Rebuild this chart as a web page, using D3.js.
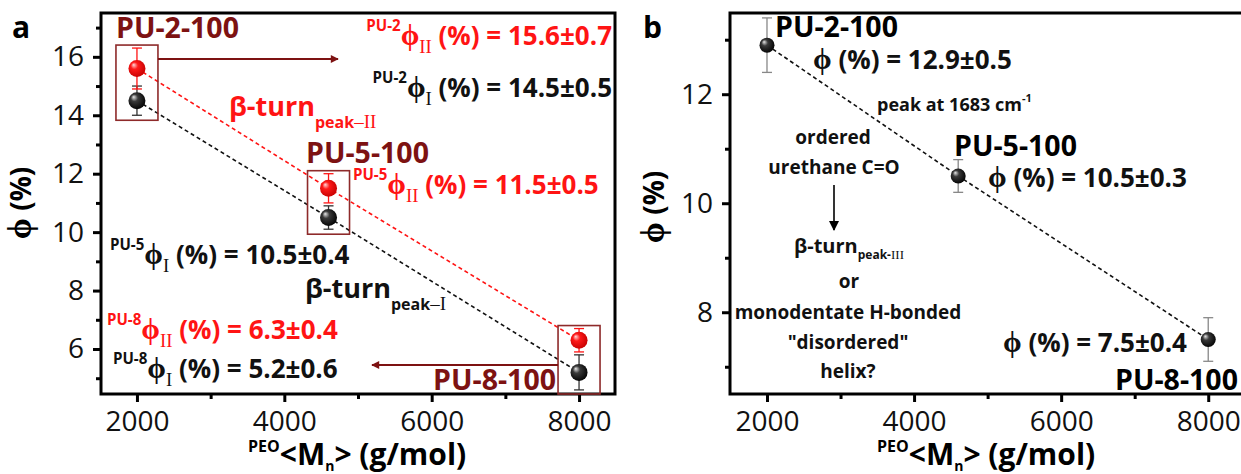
<!DOCTYPE html>
<html>
<head>
<meta charset="utf-8">
<script src="https://cdn.jsdelivr.net/npm/d3@7"></script>
<style>
  body { margin: 0; background: #fff; }
  svg { display: block; }
</style>
</head>
<body>
<div id="chart"></div>
<script>
// sample names and PEO molecular weight
var samples = ["PU-2-100", "PU-5-100", "PU-8-100"];
var mnPEO = [2000, 4600, 8000];

// panel a: beta-turn fractions (peak II red, peak I black)
var phiII = [15.6, 11.5, 6.3];
var errII = [0.7, 0.5, 0.4];
var phiI = [14.5, 10.5, 5.2];
var errI = [0.5, 0.4, 0.6];

// panel b: peak at 1683 cm-1
var phiB = [12.9, 10.5, 7.5];
var errB = [0.5, 0.3, 0.4];

// ticks
var xTicks = [2000, 4000, 6000, 8000];
var xMinor = [3000, 5000, 7000];
var yTicksA = [6, 8, 10, 12, 14, 16];
var yMinorA = [5, 7, 9, 11, 13, 15, 17];
var yTicksB = [8, 10, 12];
var yMinorB = [7, 9, 11, 13];

var FONT = "'Open Sans', 'DejaVu Sans', sans-serif";
var SERIF = "'Liberation Serif', 'DejaVu Serif', serif";
var PHI = "\u03D5";
var RED = "#ff1414";
var DARKRED = "#7d1212";
var BOXRED = "#8e2a2a";

var width = 1241, height = 474;

var svg = d3.select("#chart").append("svg")
  .attr("width", width)
  .attr("height", height)
  .attr("font-family", FONT);

// gradients for the ball markers
var defs = svg.append("defs");
var gBlack = defs.append("radialGradient").attr("id", "ballBlack")
  .attr("cx", "45%").attr("cy", "45%").attr("r", "60%").attr("fx", "30%").attr("fy", "28%");
gBlack.append("stop").attr("offset", "0%").attr("stop-color", "#e8e8e8");
gBlack.append("stop").attr("offset", "35%").attr("stop-color", "#3a3a3a");
gBlack.append("stop").attr("offset", "100%").attr("stop-color", "#000");
var gRed = defs.append("radialGradient").attr("id", "ballRed")
  .attr("cx", "45%").attr("cy", "45%").attr("r", "60%").attr("fx", "30%").attr("fy", "28%");
gRed.append("stop").attr("offset", "0%").attr("stop-color", "#ffd8d8");
gRed.append("stop").attr("offset", "35%").attr("stop-color", "#ff1a1a");
gRed.append("stop").attr("offset", "100%").attr("stop-color", "#c40000");

function arrowMarker(id, color, w, h) {
  defs.append("marker").attr("id", id)
    .attr("viewBox", "0 0 10 10").attr("refX", 9).attr("refY", 5)
    .attr("markerWidth", w).attr("markerHeight", h)
    .attr("markerUnits", "userSpaceOnUse")
    .attr("orient", "auto")
    .append("path").attr("d", "M0,0 L10,5 L0,10 z").attr("fill", color);
}
arrowMarker("arrRed", DARKRED, 10, 8);
arrowMarker("arrBlack", "#000", 10, 12);

// text with sub/superscripts: parts = [{t, s, o, f, w}]
function rich(g, x, y, parts, anchor, color) {
  var t = g.append("text")
    .attr("x", x).attr("y", y)
    .attr("text-anchor", anchor || "start")
    .attr("fill", color || "#000")
    .attr("font-weight", "bold");
  var cur = 0;
  parts.forEach(function(p) {
    var off = p.o || 0;
    var ts = t.append("tspan").text(p.t)
      .attr("font-size", p.s)
      .attr("dy", off - cur);
    if (p.f) ts.attr("font-family", p.f);
    if (p.w) ts.attr("font-weight", p.w);
    cur = off;
  });
  return t;
}

function phiLabel(pre, sub, rest, size) {
  var parts = [];
  if (pre) parts.push({t: pre, s: size * 0.58, o: -size * 0.55});
  parts.push({t: PHI, s: size * 1.15, o: 0, f: SERIF});
  if (sub) parts.push({t: sub, s: size * 0.72, o: size * 0.3, f: SERIF, w: "normal"});
  parts.push({t: rest, s: size, o: 0});
  return parts;
}

// draw axes + frame for a panel
function drawFrame(g, x, y, yTicks, yMinor) {
  var x0 = x.range()[0], x1 = x.range()[1];
  var y0 = y.range()[0], y1 = y.range()[1];

  g.append("g").attr("transform", "translate(0," + y0 + ")")
    .call(d3.axisBottom(x).tickValues(xTicks).tickSize(8).tickPadding(9).tickFormat(d3.format("d")));
  g.append("g").attr("transform", "translate(0," + y0 + ")")
    .call(d3.axisBottom(x).tickValues(xMinor).tickSize(5).tickFormat(""));
  g.append("g").attr("transform", "translate(" + x0 + ",0)")
    .call(d3.axisLeft(y).tickValues(yTicks).tickSize(8).tickPadding(9).tickFormat(d3.format("d")));
  g.append("g").attr("transform", "translate(" + x0 + ",0)")
    .call(d3.axisLeft(y).tickValues(yMinor).tickSize(5).tickFormat(""));

  g.selectAll(".domain").remove();
  g.selectAll(".tick line").attr("stroke", "#000").attr("stroke-width", 3);
  g.selectAll(".tick text")
    .attr("font-family", FONT)
    .attr("font-size", 28)
    .attr("fill", "#111");

  g.append("rect")
    .attr("x", x0).attr("y", y1)
    .attr("width", x1 - x0).attr("height", y0 - y1)
    .attr("fill", "none").attr("stroke", "#000").attr("stroke-width", 3);
}

function xLabel(g, xStart) {
  rich(g, xStart, 465, [
    {t: "PEO", s: 16, o: -13},
    {t: "<M", s: 30, o: 0},
    {t: "n", s: 14, o: 6},
    {t: "> (g/mol)", s: 30, o: 0}
  ]);
}

function yLabel(g, cx, cy) {
  var t = g.append("text")
    .attr("transform", "translate(" + cx + "," + cy + ") rotate(-90)")
    .attr("text-anchor", "middle")
    .attr("font-weight", "bold");
  t.append("tspan").text(PHI).attr("font-family", SERIF).attr("font-size", 34);
  t.append("tspan").text(" (%)").attr("font-size", 28);
}

function errorBars(g, x, y, vals, errs, color, cap) {
  var grp = g.append("g").attr("stroke", color).attr("stroke-width", 1.3).attr("fill", "none");
  vals.forEach(function(v, i) {
    var cx = x(mnPEO[i]);
    var top = y(v + errs[i]), bot = y(v - errs[i]);
    grp.append("line").attr("x1", cx).attr("x2", cx).attr("y1", top).attr("y2", bot);
    grp.append("line").attr("x1", cx - cap).attr("x2", cx + cap).attr("y1", top).attr("y2", top);
    grp.append("line").attr("x1", cx - cap).attr("x2", cx + cap).attr("y1", bot).attr("y2", bot);
  });
}

function dashedLine(g, x, y, vals, color) {
  var line = d3.line()
    .x(function(d, i) { return x(mnPEO[i]); })
    .y(function(d) { return y(d); });
  g.append("path").datum(vals)
    .attr("d", line)
    .attr("fill", "none")
    .attr("stroke", color)
    .attr("stroke-width", 1.6)
    .attr("stroke-dasharray", "4,3");
}

function balls(g, x, y, vals, fill, r) {
  g.selectAll(null).data(vals).enter().append("circle")
    .attr("cx", function(d, i) { return x(mnPEO[i]); })
    .attr("cy", function(d) { return y(d); })
    .attr("r", r)
    .attr("fill", fill);
}

function valText(v, e) {
  return " (%) = " + v + "\u00B1" + e;
}

// ---------------- panel a ----------------
var xA = d3.scaleLinear().domain([1512, 8488]).range([101, 615]);
var yA = d3.scaleLinear().domain([4.46, 17.5]).range([394, 13]);
var gA = svg.append("g");

drawFrame(gA, xA, yA, yTicksA, yMinorA);

dashedLine(gA, xA, yA, phiII, RED);
dashedLine(gA, xA, yA, phiI, "#111");

// boxes around each sample pair
mnPEO.forEach(function(m, i) {
  var top = yA(phiII[i] + errII[i]) - 3;
  var bot = Math.min(yA(phiI[i] - errI[i]) + 5, 394);
  gA.append("rect")
    .attr("x", xA(m) - 21).attr("y", top)
    .attr("width", 42).attr("height", bot - top)
    .attr("fill", "none").attr("stroke", BOXRED).attr("stroke-width", 1.6);
});

errorBars(gA, xA, yA, phiI, errI, "#333", 5);
errorBars(gA, xA, yA, phiII, errII, RED, 5);
balls(gA, xA, yA, phiI, "url(#ballBlack)", 8.5);
balls(gA, xA, yA, phiII, "url(#ballRed)", 8.5);

// arrows
gA.append("line")
  .attr("x1", xA(mnPEO[0]) + 21).attr("x2", 338)
  .attr("y1", 59).attr("y2", 59)
  .attr("stroke", DARKRED).attr("stroke-width", 1.8)
  .attr("marker-end", "url(#arrRed)");
gA.append("line")
  .attr("x1", xA(mnPEO[2]) - 21).attr("x2", 372)
  .attr("y1", 365).attr("y2", 365)
  .attr("stroke", DARKRED).attr("stroke-width", 1.8)
  .attr("marker-end", "url(#arrRed)");

// sample labels
gA.append("text").attr("x", 116).attr("y", 38).text(samples[0])
  .attr("font-size", 28.5).attr("font-weight", "bold").attr("fill", DARKRED);
gA.append("text").attr("x", 306).attr("y", 163).text(samples[1])
  .attr("font-size", 28.5).attr("font-weight", "bold").attr("fill", DARKRED);
gA.append("text").attr("x", 556).attr("y", 390).text(samples[2])
  .attr("text-anchor", "end")
  .attr("font-size", 28.5).attr("font-weight", "bold").attr("fill", DARKRED);

// value labels
rich(gA, 612, 45, phiLabel("PU-2", "II", valText(phiII[0], errII[0]), 26), "end", RED);
rich(gA, 612, 97, phiLabel("PU-2", "I", valText(phiI[0], errI[0]), 26), "end", "#111");
rich(gA, 353, 194, phiLabel("PU-5", "II", valText(phiII[1], errII[1]), 26), "start", RED);
rich(gA, 110, 264, phiLabel("PU-5", "I", valText(phiI[1], errI[1]), 26), "start", "#111");
rich(gA, 107, 339, phiLabel("PU-8", "II", valText(phiII[2], errII[2]), 26), "start", RED);
rich(gA, 113, 378, phiLabel("PU-8", "I", valText(phiI[2], errI[2]), 26), "start", "#111");

// beta-turn labels
rich(gA, 229, 116, [
  {t: "\u03B2-turn", s: 27, o: 0},
  {t: "peak", s: 16, o: 12},
  {t: "\u2013II", s: 19, o: 12, f: SERIF, w: "normal"}
], "start", RED);
rich(gA, 305, 298, [
  {t: "\u03B2-turn", s: 27, o: 0},
  {t: "peak", s: 16, o: 12},
  {t: "\u2013I", s: 19, o: 12, f: SERIF, w: "normal"}
], "start", "#111");

xLabel(gA, 248);
yLabel(gA, 31, 203);
gA.append("text").attr("x", 12).attr("y", 38).text("a")
  .attr("font-size", 30).attr("font-weight", "bold");

// ---------------- panel b ----------------
var xB = d3.scaleLinear().domain([1497, 8500]).range([730, 1245]);
var yB = d3.scaleLinear().domain([6.5, 13.49]).range([394, 13]);
var gB = svg.append("g");

drawFrame(gB, xB, yB, yTicksB, yMinorB);
dashedLine(gB, xB, yB, phiB, "#111");
errorBars(gB, xB, yB, phiB, errB, "#888", 5);
balls(gB, xB, yB, phiB, "url(#ballBlack)", 7.5);

gB.append("text").attr("x", 775).attr("y", 37).text(samples[0])
  .attr("font-size", 28.5).attr("font-weight", "bold");
gB.append("text").attr("x", 954).attr("y", 156).text(samples[1])
  .attr("font-size", 28.5).attr("font-weight", "bold");
gB.append("text").attr("x", 1115).attr("y", 390).text(samples[2])
  .attr("font-size", 28.5).attr("font-weight", "bold");

rich(gB, 813, 69, phiLabel(null, null, valText(phiB[0], errB[0]), 26), "start", "#111");
rich(gB, 988, 187, phiLabel(null, null, valText(phiB[1], errB[1]), 26), "start", "#111");
rich(gB, 1187, 352, phiLabel(null, null, valText(phiB[2], errB[2]), 26), "end", "#111");

rich(gB, 877, 111, [
  {t: "peak at 1683 cm", s: 18, o: 0},
  {t: "-1", s: 11, o: -9}
], "start", "#111");

var notes = [
  {t: "ordered", x: 833, y: 144},
  {t: "urethane C=O", x: 834, y: 174},
  {t: "or", x: 849, y: 288},
  {t: "monodentate H-bonded", x: 848, y: 319},
  {t: "\"disordered\"", x: 848, y: 349},
  {t: "helix?", x: 848, y: 378}
];
notes.forEach(function(n) {
  gB.append("text").attr("x", n.x).attr("y", n.y).text(n.t)
    .attr("text-anchor", "middle")
    .attr("font-size", 19).attr("font-weight", "bold").attr("fill", "#111");
});
rich(gB, 849, 253, [
  {t: "\u03B2-turn", s: 20, o: 0},
  {t: "peak-", s: 12, o: 6},
  {t: "III", s: 13, o: 6, f: SERIF, w: "normal"}
], "middle", "#111");

gB.append("line")
  .attr("x1", 834).attr("x2", 834)
  .attr("y1", 185).attr("y2", 230)
  .attr("stroke", "#000").attr("stroke-width", 1.6)
  .attr("marker-end", "url(#arrBlack)");

xLabel(gB, 877);
yLabel(gB, 664, 207);
gB.append("text").attr("x", 643).attr("y", 38).text("b")
  .attr("font-size", 30).attr("font-weight", "bold");
</script>
</body>
</html>
